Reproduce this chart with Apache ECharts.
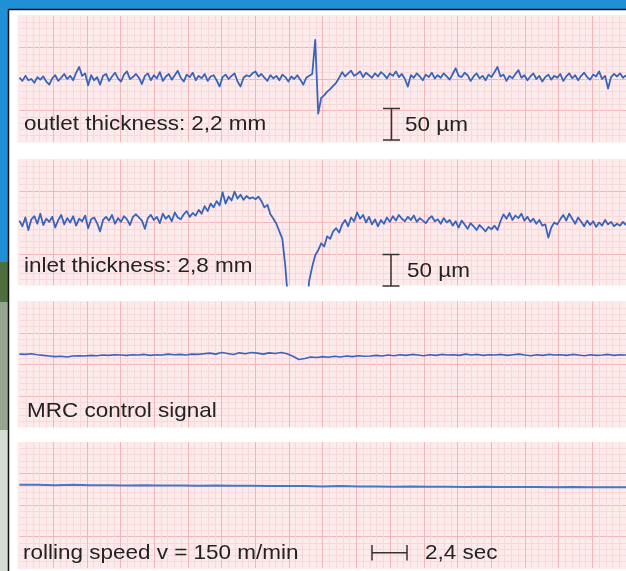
<!DOCTYPE html>
<html>
<head>
<meta charset="utf-8">
<script src="https://cdn.jsdelivr.net/npm/echarts@6/dist/echarts.min.js"></script>
<style>
html,body{margin:0;padding:0;background:#ffffff;}
#c{width:626px;height:571px;}
</style>
</head>
<body>
<div id="c"></div>
<script>
// ---------- DATA ----------
// Panel titles / scale labels
const panelLabels = ['outlet thickness: 2,2 mm', 'inlet thickness: 2,8 mm', 'MRC control signal', 'rolling speed v = 150 m/min'];
const scaleLabels = ['50 µm', '50 µm', '2,4 sec'];

// outlet thickness deviation (µm), equally spaced samples across the strip
const outletThickness = [
  2, -3, 5, -2, 0, -6, 3, -1, 4, -4, -9, 1, 6, -3, 2, 8, 0, 5, -2, 10,
  19, 5, 9, -10, 6, -2, 3, -9, 5, 8, -3, 4, 10, 1, -4, 7, 12, 0, 3, 8,
  2, -8, 5, 9, -2, 6, 1, 11, -3, 4, 8, -1, 6, 13, 2, -4, 7, 3, 10, -2,
  5, 1, 8, -3, 4, 6, -2, -12, 3, 7, 0, 5, 9, -4, -12, 2, 6, 4, 9, 12,
  4, 8, 2, -3, 6, 1, 5, -2, 7, 3, -4, 4, 0, 6, -1, -9, 2, 5, 8, 62,
  -55, -30, -26, -20, -16, -11, -6, 2, 11, 4, 9, 13, 5, 8, 12, 3, 10, 6, 2, 9,
  4, 11, 7, 1, 9, 5, 12, 3, 8, 0, -12, 6, 2, 9, 4, -2, 7, 3, 10, 1,
  6, 2, 9, 4, -1, 8, 17, 5, 3, 10, 6, -3, 4, 9, 1, 5, -2, 7, 3, 11,
  19, 4, 7, -3, 5, 1, 8, 14, 2, 6, -2, 4, 9, 0, 5, -4, 3, 7, -1, 5,
  2, 8, -3, 4, 9, 1, 6, -2, 5, 10, 3, -1, 7, 4, 12, 0, 5, -15, 3, 8,
  4, 9, 2, 6
];

// inlet thickness deviation (µm)
const inletThickness = [
  3, -6, 8, -12, 5, 10, -2, 14, -4, 6, 1, 9, -8, 4, 12, -3, 7, 0, 10, -5,
  6, 2, 11, -9, 5, 8, -1, -14, 4, 9, 3, 12, -2, 7, 1, 10, 5, -4, 9, 13,
  8, 3, -10, 7, 12, 4, 9, -1, 14, 6, 11, 2, 16, 8, 5, 13, 18, 9, 15, 11,
  20, 14, 26, 18, 30, 24, 34, 27, 48, 30, 41, 35, 49, 38, 44, 36, 42, 38, 40, 37,
  41, 34, 24, 28, 13, 6, -2, -14, -26, -70, -130, -140, -140, -140, -140, -140, -140, -92, -70, -52,
  -44, -33, -38, -22, -26, -14, -9, -16, -3, 4, -6, 8, 2, 16, 6, 12, 0, 9, -3, 5,
  -6, 4, -2, 8, 1, 10, 3, 12, 6, 2, 9, 4, 11, 1, 7, 3, -1, 6, 10, 2,
  5, -2, 7, 0, 4, -5, 2, -8, 3, -3, -10, -1, -6, -12, -4, -9, -14, -7, -11, -5,
  -12, 2, 13, 6, 15, 4, 11, 7, 14, 3, 9, 1, 6, -2, 4, -5, -3, -24, -8, 0,
  -3, 5, 12, 3, 14, 6, -2, 8, 1, -6, 3, -4, 2, -7, 0, -5, 4, -3, 1, -6,
  -2, -5, 1, -4
];

// MRC control signal (grid units)
const mrcSignal = [
  2.33, 2.32, 2.34, 2.31, 2.29, 2.27, 2.25, 2.26, 2.24, 2.27, 2.28, 2.27, 2.29, 2.28, 2.30, 2.29, 2.31, 2.30, 2.29, 2.31,
  2.30, 2.32, 2.29, 2.31, 2.30, 2.33, 2.31, 2.32, 2.30, 2.33, 2.32, 2.34, 2.36, 2.33, 2.38, 2.35, 2.32, 2.37, 2.34, 2.38,
  2.36, 2.33, 2.37, 2.35, 2.38, 2.34, 2.26, 2.16, 2.19, 2.24, 2.22, 2.25, 2.23, 2.26, 2.24, 2.27, 2.25, 2.28, 2.26, 2.27,
  2.29, 2.27, 2.30, 2.28, 2.31, 2.29, 2.32, 2.30, 2.28, 2.31, 2.29, 2.32, 2.30, 2.31, 2.29, 2.33, 2.30, 2.32, 2.29, 2.31,
  2.30, 2.32, 2.29, 2.31, 2.33, 2.30, 2.28, 2.31, 2.29, 2.32, 2.30, 2.31, 2.29, 2.32, 2.30, 2.28, 2.31, 2.29, 2.30, 2.32,
  2.29, 2.31, 2.30
];

// rolling speed (grid units)
const rollingSpeed = [
  2.64, 2.64, 2.63, 2.64, 2.63, 2.63, 2.62, 2.63, 2.62, 2.62, 2.61, 2.62, 2.61, 2.61, 2.60, 2.60, 2.60, 2.59,
  2.60, 2.59, 2.59, 2.58, 2.59, 2.58, 2.58, 2.57, 2.58, 2.57, 2.57, 2.57, 2.56, 2.57, 2.56, 2.56, 2.56
];

// y-axis ranges per panel
const yMins = [-100, -100, 0, 0];
const yMaxs = [100, 100, 4, 4];
const yIntervals = [50, 50, 1, 1];
const xMajorCount = 18;

// ---------- LAYOUT / STYLE ----------
const panelTops = [16, 159.5, 301.5, 442];
const panelH = 126;
const gridLeft = 19.4;
const gridWidth = 610.6;
const pink = '#fdebec';
const minorCol = '#f8d9db';
const majorCol = '#f1b6b9';
const lineCol = '#3865bb';
const textCol = '#222222';
const font = '21px "Liberation Sans", Arial, sans-serif';
const lineWidths = [1.8, 1.8, 1.6, 2];

const series = [outletThickness, inletThickness, mrcSignal, rollingSpeed];
const idx = n => Array.from({length: n}, (_, i) => i);

const grids = [], xAxes = [], yAxes = [], seriesOpt = [];
for (let g = 0; g < 4; g++) {
  grids.push({left: gridLeft, width: gridWidth, top: panelTops[g], height: panelH, show: false});
  xAxes.push({
    type: 'value', gridIndex: g, min: 0, max: xMajorCount, interval: 1,
    axisLine: {show: false}, axisTick: {show: false}, axisLabel: {show: false},
    splitLine: {show: true, showMinLine: false, showMaxLine: false, lineStyle: {color: majorCol, width: 1}},
    minorTick: {show: false, splitNumber: 5},
    minorSplitLine: {show: true, lineStyle: {color: minorCol, width: 1}}
  });
  xAxes.push({
    type: 'category', gridIndex: g, show: false, boundaryGap: false, data: idx(series[g].length)
  });
  yAxes.push({
    type: 'value', gridIndex: g, min: yMins[g], max: yMaxs[g], interval: yIntervals[g],
    axisLine: {show: false}, axisTick: {show: false}, axisLabel: {show: false},
    splitLine: {show: true, showMinLine: false, showMaxLine: false, lineStyle: {color: majorCol, width: 1}},
    minorTick: {show: false, splitNumber: 5},
    minorSplitLine: {show: true, lineStyle: {color: minorCol, width: 1}}
  });
  seriesOpt.push({
    type: 'line', xAxisIndex: 2 * g + 1, yAxisIndex: g, data: series[g],
    showSymbol: false, symbol: 'none', clip: true, smooth: false,
    lineStyle: {color: g === 3 ? '#4677c4' : lineCol, width: lineWidths[g], join: 'round'}
  });
}

const graphic = [
  // surrounding picture frame
  {type: 'rect', shape: {x: 0, y: 0, width: 626, height: 10}, style: {fill: '#1f8fd6'}, z: -5},
  {type: 'rect', shape: {x: 0, y: 0, width: 8, height: 262}, style: {fill: '#1f8fd6'}, z: -5},
  {type: 'rect', shape: {x: 0, y: 262, width: 8, height: 40}, style: {fill: '#4f6e3e'}, z: -5},
  {type: 'rect', shape: {x: 0, y: 302, width: 8, height: 128}, style: {fill: '#95a58f'}, z: -5},
  {type: 'rect', shape: {x: 0, y: 430, width: 8, height: 141}, style: {fill: '#d6dad4'}, z: -5},
  {type: 'line', shape: {x1: 8, y1: 9.5, x2: 626, y2: 9.5}, style: {stroke: '#111', lineWidth: 1.5}, z: -4},
  {type: 'line', shape: {x1: 8.5, y1: 9.5, x2: 8.5, y2: 571}, style: {stroke: '#111', lineWidth: 1.5}, z: -4}
];
const pinkTops = [15, 159, 301, 442];
const pinkHs = [127.5, 126.5, 126.5, 127];
for (let g = 0; g < 4; g++) {
  graphic.push({type: 'rect', shape: {x: 17.5, y: pinkTops[g], width: 610, height: pinkHs[g]}, style: {fill: pink}, z: -3});
}
// labels
const labelPos = [[24, 124.5], [24, 265.8], [27, 410.8], [23, 552.8]];
for (let g = 0; g < 4; g++) {
  graphic.push({type: 'text', x: labelPos[g][0], y: labelPos[g][1], scaleX: 1.07, z: 10,
    style: {text: panelLabels[g], font: font, fill: textCol, verticalAlign: 'middle', textVerticalAlign: 'middle'}});
}
const scalePos = [[405, 125.5], [407, 270.8], [425, 553]];
for (let k = 0; k < 3; k++) {
  graphic.push({type: 'text', x: scalePos[k][0], y: scalePos[k][1], scaleX: 1.07, z: 10,
    style: {text: scaleLabels[k], font: font, fill: textCol, verticalAlign: 'middle', textVerticalAlign: 'middle'}});
}
// scale bars
const barStyle = {stroke: '#333', lineWidth: 1.5};
function ibar(x, y1, y2) {
  graphic.push({type: 'line', shape: {x1: x, y1: y1, x2: x, y2: y2}, style: barStyle, z: 10});
  graphic.push({type: 'line', shape: {x1: x - 8.5, y1: y1, x2: x + 8.5, y2: y1}, style: barStyle, z: 10});
  graphic.push({type: 'line', shape: {x1: x - 8.5, y1: y2, x2: x + 8.5, y2: y2}, style: barStyle, z: 10});
}
ibar(391.5, 108.5, 140);
ibar(391, 254.5, 286);
graphic.push({type: 'line', shape: {x1: 372, y1: 552.7, x2: 407, y2: 552.7}, style: barStyle, z: 10});
graphic.push({type: 'line', shape: {x1: 372, y1: 545, x2: 372, y2: 560.5}, style: barStyle, z: 10});
graphic.push({type: 'line', shape: {x1: 407, y1: 545, x2: 407, y2: 560.5}, style: barStyle, z: 10});

const chart = echarts.init(document.getElementById('c'), null, {renderer: 'canvas'});
chart.setOption({
  animation: false,
  backgroundColor: '#ffffff',
  grid: grids,
  xAxis: xAxes,
  yAxis: yAxes,
  series: seriesOpt,
  graphic: graphic
});
</script>
</body>
</html>
